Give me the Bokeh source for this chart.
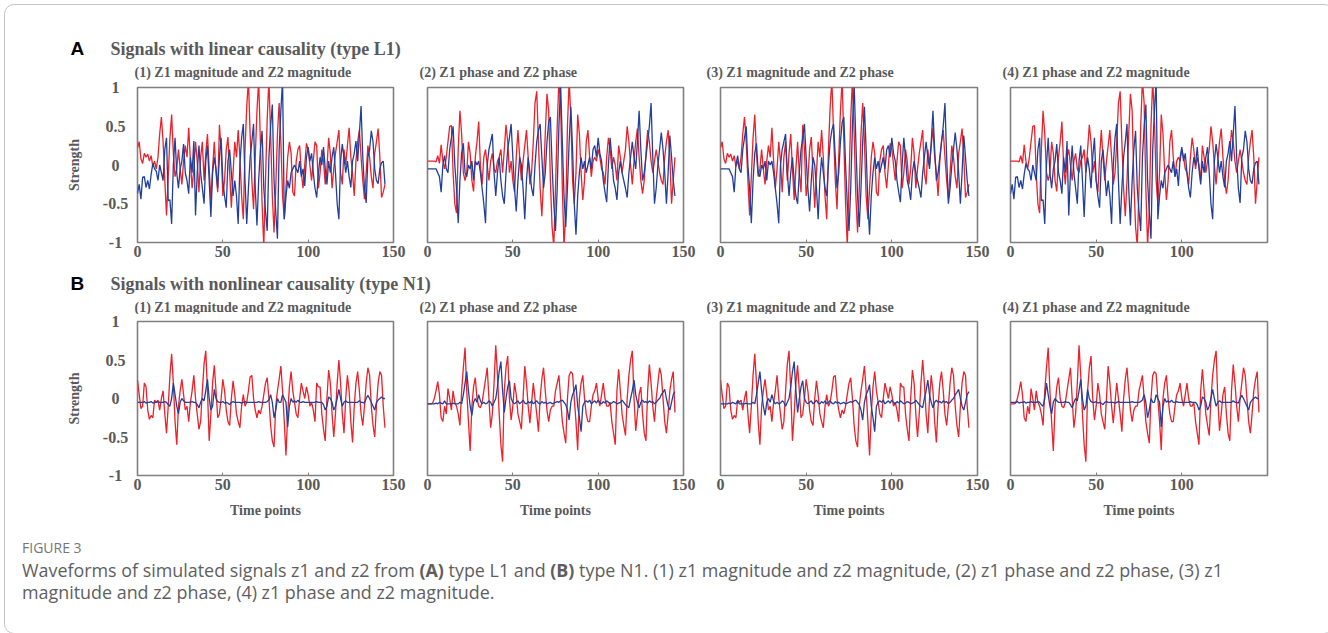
from math import pi
from bokeh.plotting import figure
from bokeh.models import Range1d, Label, FixedTicker, Div
from bokeh.layouts import column, row
from bokeh.embed import file_html
from bokeh.resources import INLINE

# ---------------- data ----------------
TIME = list(range(146))
X_TICKS = [0, 50, 100, 150]
X_TICKS_LAST = [0, 50, 100]
Y_TICKS = [1, 0.5, 0, -0.5, -1]
Y_TICK_LABELS = ["1", "0.5", "0", "-0.5", "-1"]

# Row A: linear causality (type L1)
A_Z1_MAG = [0.22, 0.30, 0.08, 0.02, 0.15, 0.10, 0.14, 0.05, 0.12, -0.02,
            0.05, -0.05, 0.10, 0.40, 0.62, 0.30, -0.20, -0.65, -0.15, 0.35,
            0.65, 0.15, -0.15, -0.05, 0.20, -0.05, -0.25, 0.05, 0.25, 0.10,
            0.48, 0.05, -0.30, -0.05, 0.30, 0.05, -0.35, 0.10, 0.30, -0.20,
            0.15, 0.40, -0.05, -0.45, -0.05, 0.30, -0.10, -0.35, 0.52, 0.20,
            -0.40, -0.20, 0.20, 0.36, -0.10, -0.55, -0.10, 0.30, 0.10, 0.45,
            0.10, -0.40, -0.70, 0.20, 0.75, 1.10, 0.40, -0.20, -0.57, 0.10,
            0.70, 1.10, 0.30, -0.50, -1.05, -0.20, 0.60, 1.10, 0.40, -0.40,
            -0.87, -0.30, 0.40, 0.80, 0.30, -0.40, -0.70, -0.30, 0.10, 0.30,
            0.15, -0.35, -0.40, 0.05, 0.20, 0.25, -0.10, -0.30, 0.00, 0.28,
            0.20, 0.00, -0.20, 0.05, 0.30, 0.25, -0.30, -0.10, 0.20, 0.05,
            -0.25, -0.05, 0.35, 0.15, -0.30, -0.05, 0.15, 0.30, 0.45, -0.10,
            -0.25, 0.20, 0.00, 0.25, 0.48, 0.10, -0.10, -0.40, 0.05, 0.30,
            0.45, 0.10, -0.20, -0.44, -0.10, 0.25, 0.10, -0.15, -0.30, 0.15,
            0.30, 0.47, 0.10, -0.42, -0.35, -0.25]
A_Z2_MAG = [-0.37, -0.25, -0.44, -0.16, -0.15, -0.29, -0.20, -0.31, -0.12, 0.02,
            -0.05, -0.08, -0.20, 0.00, -0.10, -0.20, 0.20, 0.35, -0.46, -0.45,
            -0.76, 0.00, 0.35, -0.10, -0.30, -0.05, 0.05, 0.27, -0.10, -0.20,
            -0.37, 0.10, -0.10, 0.31, -0.65, -0.10, 0.25, -0.10, -0.30, -0.50,
            0.05, 0.25, -0.20, -0.67, -0.10, 0.10, -0.05, -0.30, 0.10, 0.35,
            -0.20, -0.40, -0.55, 0.05, 0.20, -0.10, -0.40, -0.20, -0.40, -0.76,
            0.00, 0.35, 0.53, -0.20, -0.76, -0.30, 0.10, 0.30, 0.53, -0.30,
            -0.78, -0.20, 0.20, 0.44, -0.30, -0.60, -0.85, 0.10, 0.50, 0.78,
            -0.20, -0.60, -0.95, 0.20, 0.70, 1.10, -0.70, -0.40, -0.20, -0.30,
            -0.10, -0.05, 0.00, -0.05, -0.10, 0.05, -0.15, -0.05, -0.27, 0.10,
            0.23, 0.05, 0.15, -0.10, -0.30, -0.42, -0.10, 0.10, 0.00, 0.23,
            -0.05, -0.25, 0.05, -0.10, 0.10, 0.23, -0.10, -0.50, -0.70, 0.05,
            0.27, 0.10, -0.10, 0.05, -0.15, -0.29, 0.05, 0.15, 0.31, 0.05,
            0.40, 0.76, 0.10, -0.30, -0.49, 0.10, 0.20, 0.44, 0.30, -0.05,
            -0.20, -0.24, -0.05, 0.03, 0.05, -0.25]
A_Z1_PHASE = [0.05, 0.05, 0.05, 0.05, 0.05, 0.04, 0.12, 0.02, 0.26, 0.05,
              -0.05, 0.10, 0.30, 0.50, 0.51, -0.10, -0.50, -0.62, 0.20, 0.70,
              0.40, -0.10, -0.20, -0.10, 0.30, 0.15, -0.20, -0.34, 0.10, 0.30,
              0.56, 0.00, -0.25, 0.10, 0.20, 0.00, -0.20, 0.05, 0.15, -0.05,
              -0.10, 0.05, 0.10, 0.20, -0.10, 0.20, 0.52, 0.30, -0.10, 0.05,
              -0.20, -0.35, 0.10, 0.45, 0.10, -0.20, 0.05, 0.25, 0.45, 0.10,
              -0.25, -0.10, 0.30, 0.80, 0.95, 0.30, -0.30, -0.66, -0.20, 0.40,
              0.92, 0.70, -0.20, -0.80, -1.05, -0.30, 0.50, 1.10, 0.80, -0.30,
              -1.05, -0.60, 0.50, 1.10, 0.60, -0.20, -0.50, -0.10, 0.65, 0.40,
              -0.10, -0.45, -0.20, 0.30, 0.45, 0.10, -0.15, 0.05, 0.10, 0.05,
              0.20, 0.10, -0.05, -0.10, -0.25, 0.10, 0.35, 0.20, -0.05, 0.10,
              0.00, -0.20, 0.25, 0.10, -0.10, 0.05, 0.20, 0.50, 0.30, 0.00,
              -0.25, 0.05, 0.30, 0.47, 0.10, -0.20, -0.37, -0.20, 0.15, 0.45,
              0.30, 0.05, -0.10, 0.05, 0.20, 0.05, -0.10, -0.20, -0.25, 0.10,
              0.30, 0.45, 0.10, -0.50, -0.20, 0.10]
A_Z2_PHASE = [-0.05, -0.05, -0.05, -0.05, -0.05, -0.05, -0.10, -0.15, -0.35, 0.00,
              0.12, -0.05, -0.10, 0.20, 0.35, 0.50, 0.00, -0.30, -0.75, -0.20,
              0.15, 0.28, -0.10, -0.15, 0.00, -0.05, 0.05, -0.20, 0.05, 0.00,
              0.05, -0.10, -0.30, -0.50, -0.75, 0.00, 0.20, 0.30, 0.40, -0.10,
              -0.40, -0.10, 0.10, -0.20, -0.40, -0.50, -0.10, 0.20, 0.35, 0.53,
              0.10, -0.30, -0.60, -0.20, 0.10, 0.00, -0.30, -0.70, -0.20, 0.10,
              -0.10, -0.30, -0.40, 0.00, 0.30, 0.45, 0.53, 0.10, -0.30, -0.10,
              0.30, 0.55, 0.62, 0.00, -0.50, -0.85, -0.30, 0.50, 1.05, 0.30,
              -0.40, -0.80, -0.30, 0.30, 0.75, 0.20, -0.50, -0.90, -0.40, -0.10,
              0.10, -0.05, 0.05, -0.10, 0.00, 0.10, -0.05, 0.20, 0.25, 0.10,
              0.35, 0.15, 0.05, -0.20, -0.35, -0.48, 0.00, 0.35, 0.10, -0.20,
              -0.30, -0.45, -0.10, 0.05, -0.10, -0.20, -0.30, -0.42, -0.10, 0.10,
              0.30, 0.10, -0.05, 0.30, 0.70, 0.20, -0.20, -0.10, 0.10, 0.30,
              0.50, 0.80, 0.10, -0.50, -0.30, 0.00, 0.20, 0.42, 0.20, -0.10,
              -0.50, -0.10, 0.38, 0.10, -0.20, -0.40]

# Row B: nonlinear causality (type N1)
B_Z1_MAG = [0.24, 0.05, -0.13, -0.10, 0.20, 0.15, -0.15, -0.27, -0.22, -0.25,
            -0.02, -0.05, -0.02, -0.15, 0.00, 0.10, -0.20, -0.45, -0.10, 0.30,
            0.58, 0.20, -0.30, -0.60, -0.10, 0.10, 0.25, 0.05, -0.15, -0.10,
            -0.30, -0.05, 0.10, 0.30, 0.00, -0.20, -0.40, -0.30, 0.10, 0.45,
            0.62, 0.10, -0.55, -0.20, 0.20, 0.43, 0.10, -0.25, -0.20, 0.00,
            0.25, 0.10, -0.15, -0.30, -0.35, 0.00, 0.23, 0.05, -0.20, -0.30,
            -0.38, -0.10, 0.05, -0.10, -0.05, 0.10, 0.28, 0.30, 0.00, -0.15,
            -0.25, -0.15, -0.20, -0.10, 0.05, 0.20, 0.27, 0.00, -0.35, -0.55,
            -0.63, -0.10, 0.10, 0.25, 0.42, 0.10, -0.30, -0.74, -0.20, 0.15,
            0.35, 0.10, -0.05, -0.20, -0.25, 0.00, 0.20, 0.10, 0.00, 0.15,
            0.05, -0.10, -0.05, -0.15, -0.30, 0.20, 0.15, 0.15, -0.20, -0.40,
            -0.55, 0.00, 0.37, 0.20, -0.20, -0.50, -0.20, 0.20, 0.50, 0.20,
            -0.20, -0.45, 0.00, 0.30, 0.10, -0.30, -0.57, -0.10, 0.20, 0.35,
            0.10, -0.20, -0.35, -0.10, 0.20, 0.40, 0.30, -0.10, -0.35, -0.50,
            -0.10, 0.20, 0.35, 0.30, -0.10, -0.38]
B_Z2_MAG = [-0.05, -0.05, -0.05, -0.05, -0.04, -0.06, -0.05, -0.05, -0.04, -0.06,
            -0.05, -0.05, -0.04, -0.05, -0.05, -0.05, -0.04, -0.05, -0.08, -0.10,
            0.00, 0.20, 0.05, -0.10, -0.20, -0.05, 0.00, -0.03, -0.05, -0.05,
            -0.05, -0.05, -0.04, -0.05, -0.05, -0.08, -0.12, -0.05, 0.00, -0.03,
            0.10, 0.25, 0.00, -0.15, -0.10, 0.12, 0.00, -0.04, -0.05, -0.05,
            -0.04, -0.06, -0.05, -0.06, -0.08, -0.05, -0.04, -0.05, -0.05, -0.05,
            -0.05, -0.06, -0.05, -0.04, -0.05, -0.05, -0.05, -0.05, -0.05, -0.05,
            -0.05, -0.04, -0.05, -0.05, -0.05, -0.05, -0.04, -0.02, 0.05, -0.05,
            -0.25, -0.15, 0.00, -0.05, -0.05, 0.05, 0.00, -0.05, -0.37, -0.10,
            0.00, -0.05, -0.03, -0.05, -0.02, -0.05, -0.05, -0.04, -0.05, -0.05,
            -0.05, -0.05, -0.05, -0.05, -0.05, -0.04, -0.05, -0.05, -0.05, -0.08,
            -0.15, -0.10, 0.02, 0.00, -0.05, -0.15, -0.10, 0.00, 0.12, 0.00,
            -0.10, -0.05, -0.03, -0.05, -0.05, -0.05, -0.05, -0.05, -0.05, -0.05,
            -0.03, -0.05, -0.05, -0.06, 0.00, 0.04, 0.00, -0.05, -0.10, -0.15,
            -0.05, -0.02, 0.00, 0.02, 0.00, 0.00]
B_Z1_PHASE = [-0.07, -0.07, -0.07, -0.06, 0.00, 0.10, 0.22, 0.05, -0.25, -0.30,
              -0.10, -0.20, 0.13, 0.00, -0.15, 0.10, -0.05, -0.10, -0.20, -0.35,
              0.10, 0.40, 0.66, 0.10, -0.30, -0.68, -0.10, 0.15, 0.27, 0.00,
              -0.10, -0.12, -0.05, 0.10, 0.25, 0.40, 0.00, -0.38, -0.20, 0.20,
              0.69, 0.30, -0.20, -0.60, -0.82, 0.10, 0.40, 0.55, 0.00, -0.28,
              -0.10, 0.20, 0.05, -0.20, -0.30, -0.40, 0.00, 0.42, 0.20, -0.10,
              -0.32, -0.05, 0.20, 0.00, -0.20, -0.43, 0.00, 0.25, 0.40, 0.10,
              -0.15, -0.30, -0.15, -0.10, -0.10, 0.10, 0.20, 0.30, 0.00, -0.30,
              -0.45, -0.58, 0.00, 0.30, 0.35, 0.32, 0.00, -0.30, -0.67, 0.00,
              0.20, 0.30, 0.00, -0.20, -0.30, -0.30, -0.10, 0.05, 0.10, 0.20,
              0.00, -0.10, 0.05, 0.20, 0.00, -0.10, -0.10, -0.05, -0.30, -0.45,
              -0.60, 0.10, 0.38, 0.10, -0.20, -0.35, -0.48, 0.00, 0.30, 0.50,
              0.62, 0.00, -0.42, -0.20, 0.05, 0.15, -0.20, -0.45, -0.55, 0.10,
              0.44, 0.20, -0.10, -0.30, 0.00, 0.20, 0.40, 0.30, 0.00, -0.30,
              -0.45, -0.20, 0.10, 0.25, 0.35, -0.18]
B_Z2_PHASE = [-0.07, -0.07, -0.07, -0.07, -0.07, -0.06, -0.07, -0.05, -0.06, -0.07,
              -0.03, -0.07, -0.07, -0.07, -0.07, -0.06, -0.07, -0.07, -0.07, -0.05,
              -0.07, 0.05, 0.20, 0.35, 0.10, -0.10, -0.22, -0.05, 0.00, -0.05,
              0.05, -0.03, -0.07, -0.05, -0.07, -0.06, -0.03, -0.05, -0.10, -0.05,
              0.00, 0.15, 0.35, 0.48, 0.10, -0.18, 0.00, 0.15, 0.23, 0.00,
              -0.05, -0.07, -0.05, -0.03, -0.07, -0.05, -0.02, -0.06, -0.07, -0.04,
              -0.06, -0.03, -0.07, -0.05, -0.03, -0.06, -0.07, -0.04, -0.06, -0.05,
              -0.07, -0.06, -0.05, -0.07, -0.06, -0.05, -0.04, -0.05, -0.03, -0.02,
              -0.05, -0.08, -0.15, -0.28, -0.05, 0.05, 0.10, 0.18, -0.10, -0.25,
              -0.43, -0.10, -0.05, -0.03, -0.05, -0.02, -0.07, -0.05, -0.03, -0.06,
              -0.02, -0.05, -0.07, -0.04, -0.06, -0.03, -0.05, -0.07, -0.06, -0.04,
              -0.05, -0.07, -0.06, -0.05, -0.02, -0.05, -0.08, -0.10, -0.12, 0.00,
              0.10, 0.24, 0.05, -0.05, -0.12, -0.05, -0.02, -0.05, -0.04, -0.06,
              -0.03, -0.05, -0.04, -0.07, -0.05, -0.02, 0.00, 0.05, 0.08, 0.12,
              0.00, -0.10, -0.15, -0.05, 0.05, 0.09]

ROW_A_TITLE = "Signals with linear causality (type L1)"
ROW_B_TITLE = "Signals with nonlinear causality (type N1)"
PANEL_TITLES = ["(1) Z1 magnitude and Z2 magnitude", "(2) Z1 phase and Z2 phase",
                "(3) Z1 magnitude and Z2 phase", "(4) Z1 phase and Z2 magnitude"]
Y_LABEL = "Strength"
X_LABEL = "Time points"

# ---------------- style ----------------
RED = "#ec2129"
BLUE = "#22409b"
TXT = "#595959"
FRAME = "#808080"
SERIF = "Liberation Serif"
SANS = "Liberation Sans"
W = 1312
STRIP_W = 123

# panel figure geometry: (width, left border, right border)
COLS = [(279, 6, 17), (290, 17, 17), (293, 20, 16), (327, 17, 53)]


def header_fig(height, letter, title, letter_y, title_y, sub_y):
    f = figure(width=W, height=height, x_range=Range1d(0, W), y_range=Range1d(0, height),
               toolbar_location=None, output_backend="svg", min_border=0)
    f.axis.visible = False
    f.grid.visible = False
    f.outline_line_color = None
    f.add_layout(Label(x=62, y=letter_y, text=letter, text_font=SANS, text_font_style="bold",
                       text_font_size="19px", text_color="#000000", text_baseline="middle"))
    f.add_layout(Label(x=102, y=title_y, text=title, text_font=SERIF, text_font_style="bold",
                       text_font_size="18px", text_color=TXT, text_baseline="middle"))
    for xs, t in zip([126, 411, 698, 994], PANEL_TITLES):
        f.add_layout(Label(x=xs, y=sub_y, text=t, text_font=SERIF, text_font_style="bold",
                           text_font_size="14px", text_color=TXT, text_baseline="middle"))
    return f


def strip_fig(height, top, bottom, frame_h):
    # y tick labels and the y axis title, on the same value scale as the panels;
    # the strip's own frame fills the whole strip so that no label is cut off
    per = 2.0 / frame_h
    f = figure(width=STRIP_W, height=height, x_range=Range1d(0, STRIP_W),
               y_range=Range1d(-1 - bottom * per, 1 + top * per),
               toolbar_location=None, output_backend="svg", min_border=0)
    f.axis.visible = False
    f.grid.visible = False
    f.outline_line_color = None
    for v, t in zip(Y_TICKS, Y_TICK_LABELS):
        f.add_layout(Label(x=107, y=v, text=t, text_font=SERIF, text_font_style="bold",
                           text_font_size="16px", text_color=TXT,
                           text_align="center", text_baseline="middle"))
    f.add_layout(Label(x=66, y=0, text=Y_LABEL, angle=pi / 2, text_font=SERIF,
                       text_font_style="bold", text_font_size="14px", text_color=TXT,
                       text_align="center", text_baseline="middle"))
    return f


def panel(i, z1, z2, height, top, bottom, xlabel):
    w, left, right = COLS[i]
    p = figure(width=w, height=height, x_range=Range1d(0, 150), y_range=Range1d(-1, 1),
               toolbar_location=None, output_backend="svg",
               min_border_left=left, min_border_right=right,
               min_border_top=top, min_border_bottom=bottom)
    p.grid.visible = False
    p.yaxis.visible = False
    p.outline_line_color = FRAME
    p.outline_line_width = 1.6
    p.line(TIME, z1, line_color=RED, line_width=1.3)
    p.line(TIME, z2, line_color=BLUE, line_width=1.3)

    ax = p.xaxis[0]
    ax.ticker = FixedTicker(ticks=X_TICKS_LAST if i == 3 else X_TICKS)
    ax.axis_line_color = None
    ax.major_tick_in = 3
    ax.major_tick_out = 0
    ax.major_tick_line_color = FRAME
    ax.minor_tick_line_color = None
    ax.major_label_standoff = 3
    ax.major_label_text_font = SERIF
    ax.major_label_text_font_style = "bold"
    ax.major_label_text_font_size = "16px"
    ax.major_label_text_color = TXT
    if xlabel:
        ax.axis_label = X_LABEL
        ax.axis_label_text_font = SERIF
        ax.axis_label_text_font_style = "bold"
        ax.axis_label_text_font_size = "14px"
        ax.axis_label_text_color = TXT
        ax.axis_label_standoff = 10
    return p


series = [(0, "MAG", "MAG"), (1, "PHASE", "PHASE"), (2, "MAG", "PHASE"), (3, "PHASE", "MAG")]
data = {"A": {"Z1MAG": A_Z1_MAG, "Z2MAG": A_Z2_MAG, "Z1PHASE": A_Z1_PHASE, "Z2PHASE": A_Z2_PHASE},
        "B": {"Z1MAG": B_Z1_MAG, "Z2MAG": B_Z2_MAG, "Z1PHASE": B_Z1_PHASE, "Z2PHASE": B_Z2_PHASE}}

head_a = header_fig(72, "A", ROW_A_TITLE, 32, 32, 8)
panels_a = row([panel(i, data["A"]["Z1" + a], data["A"]["Z2" + b], 182, 7, 20, False)
                for i, a, b in series], spacing=0)
row_a = row([column([strip_fig(182, 7, 20, 155)], spacing=0), panels_a], spacing=0)

head_b = header_fig(52, "B", ROW_B_TITLE, 31, 31, 7)
panels_b = row([panel(i, data["B"]["Z1" + a], data["B"]["Z2" + b], 216, 7, 55, True)
                for i, a, b in series], spacing=0)
row_b = row([column([strip_fig(216, 7, 55, 154)], spacing=0), panels_b], spacing=0)

caption_html = (
    '<div style="font-family:\'Open Sans\',sans-serif;color:#5e5e5e;padding-left:9px;white-space:nowrap;">'
    '<div style="font-size:14px;line-height:16px;padding-top:5px;color:#767676;">FIGURE 3</div>'
    '<div style="font-size:17.9px;line-height:22px;margin-top:3px;">'
    'Waveforms of simulated signals z1 and z2 from <b>(A)</b> type L1 and <b>(B)</b> type N1. '
    '(1) z1 magnitude and z2 magnitude, (2) z1 phase and z2 phase, (3) z1<br>'
    'magnitude and z2 phase, (4) z1 phase and z2 magnitude.</div></div>'
)
caption = Div(text=caption_html, width=W, height=90)

layout = column([head_a, row_a, head_b, row_b, caption], spacing=0,
                styles={"margin": "8px", "outline": "1px solid #c4c4c4",
                        "outline-offset": "3px", "border-radius": "6px"})

open("out.html", "w").write(file_html(layout, INLINE))
